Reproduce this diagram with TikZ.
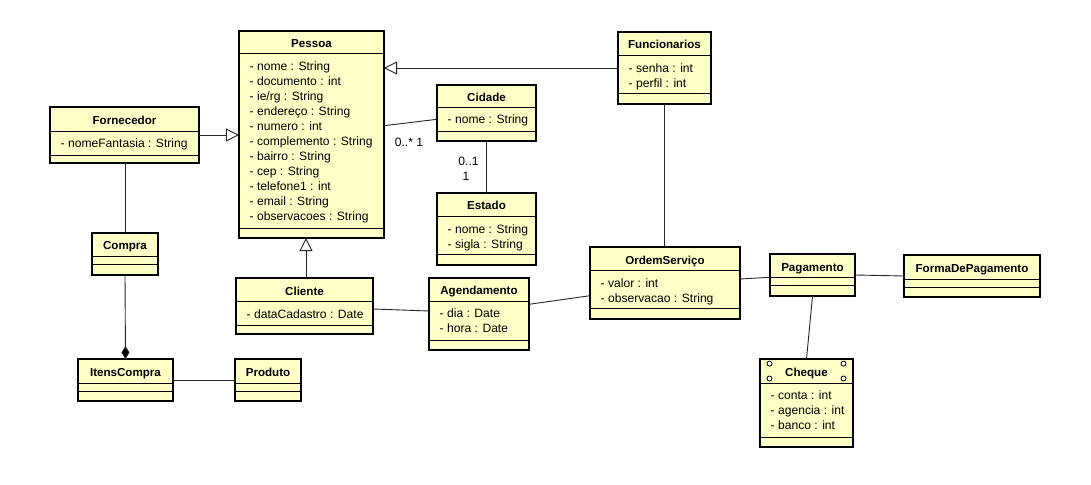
\documentclass[tikz,border=0pt]{standalone}
\usepackage{fontspec}
\setmainfont{Liberation Sans}
\usetikzlibrary{calc,arrows.meta}
\definecolor{clsfill}{RGB}{255,255,200}
\tikzset{
 box/.style={draw=black, fill=clsfill, line width=2pt, inner sep=0pt, outer sep=0pt},
 sepline/.style={line width=1pt},
 ttl/.style={font=\fontsize{11.6}{14}\selectfont\bfseries, inner sep=0pt, text height=8.3pt, text depth=0pt},
 attr/.style={font=\fontsize{12.1}{14}\selectfont, inner sep=0pt, anchor=west, text height=8.5pt, text depth=0pt},
 conn/.style={line width=0.9pt, draw=black!85},
 gen/.style={conn, -{Triangle[open, length=13pt, width=13pt, fill=white]}},
 comp/.style={conn, -{Diamond[length=13pt, width=8pt, fill=black]}},
 mult/.style={font=\fontsize{12.1}{14}\selectfont, inner sep=0pt, text height=8.5pt, text depth=0pt},
}
\newcommand\umlcls[9]{%
 \node[box, minimum width=#4pt, minimum height=#5pt, anchor=north west] (#1) at (#2,#3) {};
 \draw[sepline] ($(#1.north west)+(0,#6)$) -- ($(#1.north east)+(0,#6)$);
 \draw[sepline] ($(#1.north west)+(0,#7)$) -- ($(#1.north east)+(0,#7)$);
 \node[ttl] at ($(#1.north)+(0,{#6/2+1})$) {#8};
 \foreach \a [count=\i from 0] in {#9} {\node[attr] at ($(#1.north west)+(10.5,{#6+12.3+15*\i})$) {\a};}
}
\begin{document}
\begin{tikzpicture}[x=1pt,y=-1pt]
\fill[white] (0,0) rectangle (1091,484);
\useasboundingbox (0,0) rectangle (1091,484);

\umlcls{pessoa}{239}{31}{145}{207}{23}{197}{Pessoa}{- nome : String,- documento : int,- ie/rg : String,- endereço : String,- numero : int,- complemento : String,- bairro : String,- cep : String,- telefone1 : int,- email : String,- observacoes : String}
\umlcls{forn}{50}{107}{149}{56}{24}{48}{Fornecedor}{- nomeFantasia : String}
\umlcls{compra}{92}{233}{66}{42}{23}{31}{Compra}{}
\umlcls{itens}{78}{359}{95}{42}{24}{32.5}{ItensCompra}{}
\umlcls{produto}{235}{359}{66}{42}{24}{32.5}{Produto}{}
\umlcls{cliente}{236}{278}{137}{56}{23.7}{47}{Cliente}{- dataCadastro : Date}
\umlcls{agend}{429}{278}{100}{72}{23}{62}{Agendamento}{- dia : Date,- hora : Date}
\umlcls{cidade}{437}{85}{99}{56}{22.3}{46}{Cidade}{- nome : String}
\umlcls{estado}{437}{193}{99}{72}{23.5}{61.3}{Estado}{- nome : String,- sigla : String}
\umlcls{func}{618}{32}{93}{72}{23.7}{61.3}{Funcionarios}{- senha : int,- perfil : int}
\umlcls{ordem}{590}{247}{150}{72}{23.7}{61.3}{OrdemServiço}{- valor : int,- observacao : String}
\umlcls{pag}{770}{254}{85}{42}{23.7}{31.7}{Pagamento}{}
\umlcls{fdp}{904}{255}{136}{42}{24}{32}{FormaDePagamento}{}
\umlcls{cheque}{760}{359}{93}{88}{24.3}{78.3}{Cheque}{- conta : int,- agencia : int,- banco : int}

\foreach \dx/\dy in {9.5/4.6, 83.5/4.6, 9.5/19.5, 83.5/19.5}
  \draw[line width=0.8pt, fill=white] ($(cheque.north west)+(\dx,\dy)$) circle (2.5pt);

% connectors
\draw[gen] ($(func.north west)+(0,36)$) -- ($(pessoa.north east)+(0,37)$);
\draw[gen] (forn.east) -- (forn.east -| pessoa.west);
\draw[gen] ($(cliente.north)+(1.5,0)$) -- ($(cliente.north |- pessoa.south)+(1.5,0)$);
\draw[conn] ($(pessoa.north east)+(0,94.7)$) -- ($(cidade.north west)+(0,34.3)$);
\node[mult] (m1) at ($(pessoa.north east)+(25,111)$) {0..* 1};
\draw[conn] (cidade.south) -- (estado.north);
\node[mult] (m2) at ($(cidade.south)+(-18,20)$) {0..1};
\node[mult] (m3) at ($(cidade.south)+(-20.5,35)$) {1};
\draw[conn] (compra.north |- forn.south) -- (compra.north);
\draw[comp] (compra.south) -- (itens.north);
\draw[conn] (itens.east) -- (produto.west);
\draw[conn] ($(cliente.north east)+(0,31)$) -- ($(agend.north west)+(0,33)$);
\draw[conn] ($(agend.north east)+(0,26.3)$) -- ($(ordem.north west)+(0,48.7)$);
\draw[conn] (func.south) -- (func.south |- ordem.north);
\draw[conn] ($(ordem.north east)+(0,32)$) -- ($(pag.north west)+(0,23.3)$);
\draw[conn] (pag.east) -- (fdp.west);
\draw[conn] (pag.south) -- (cheque.north);
\end{tikzpicture}
\end{document}
